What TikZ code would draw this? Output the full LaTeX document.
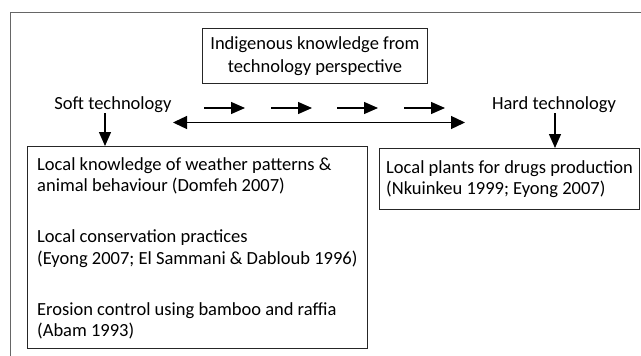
\documentclass[tikz,border=0pt]{standalone}
\usepackage{fontspec}
\setmainfont{Carlito}
\usetikzlibrary{arrows.meta}
\tikzset{
  box/.style={draw=black!85, line width=0.9pt, rectangle, inner sep=0pt},
  txt/.style={font=\fontsize{18.5}{21.5}\selectfont, inner sep=0pt, align=left, anchor=west},
  lbl/.style={font=\fontsize{18.5}{21.5}\selectfont, inner sep=0pt},
  tip/.style={Triangle[length=14pt,width=12pt]},
  arr/.style={line width=1.3pt, -{Triangle[length=14pt,width=12pt]}},
  darr/.style={line width=1.3pt, {Triangle[length=14pt,width=13pt]}-{Triangle[length=14pt,width=13pt]}},
  frame/.style={draw=black!60, line width=1pt}
}
\begin{document}
\begin{tikzpicture}[x=1pt,y=-1pt]
\useasboundingbox (0,0) rectangle (641,356);
\draw[frame] (10.5,356) -- (10.5,12.5) -- (641,12.5);
\node[box, anchor=north west, minimum width=225pt, minimum height=55pt, align=center,
  font=\fontsize{18.5}{23}\selectfont] (title) at (202,28) {Indigenous knowledge from\\technology perspective};
\node[lbl] (soft) at (113,105) {Soft technology};
\node[lbl] (hard) at (554,105) {Hard technology};
\node[box, anchor=north west, minimum width=340pt, minimum height=202pt] (left) at (27,146) {};
\node[txt] (lefttext) at ([xshift=10pt,yshift=-1pt]left.west)
 {Local knowledge of weather patterns \&\\animal behaviour (Domfeh 2007)\\[29.5pt]
  Local conservation practices\\(Eyong 2007; El Sammani \& Dabloub 1996)\\[29.5pt]
  Erosion control using bamboo and raffia\\(Abam 1993)};
\node[box, anchor=north west, minimum width=260pt, minimum height=61pt] (right) at (379,148) {};
\node[txt] (righttext) at ([xshift=7pt]right.west)
 {Local plants for drugs production\\(Nkuinkeu 1999; Eyong 2007)};
\coordinate (s1) at (105,113);
\coordinate (h1) at (555,113);
\draw[arr] (s1) -- (s1 |- left.north);
\draw[arr] (h1) -- (h1 |- right.north);
\coordinate (dl) at (173,122.5);
\coordinate (dr) at (465,122.5);
\draw[darr] (dl) -- (dr);
\foreach \i/\x in {1/204,2/271,3/337,4/404}{
  \coordinate (a\i) at (\x,108);
  \coordinate (b\i) at (\x+41,108);
  \draw[arr] (a\i) -- (b\i);
}
\end{tikzpicture}
\end{document}
